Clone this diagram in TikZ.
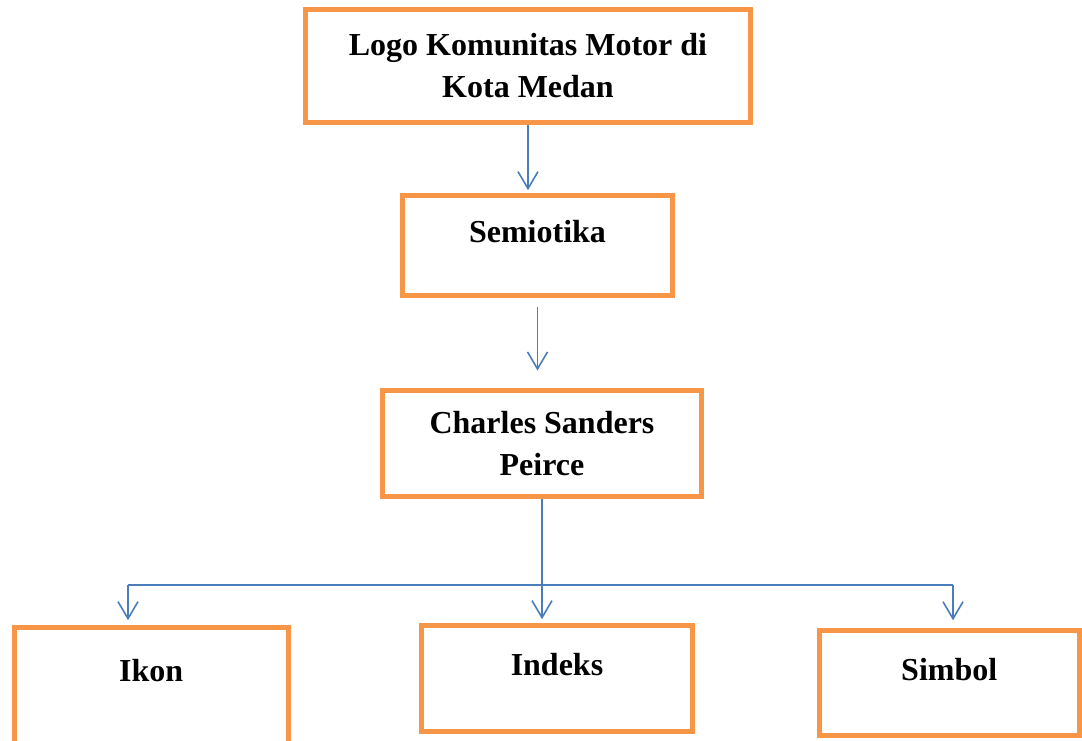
\documentclass[tikz,border=0pt]{standalone}
\usepackage{fontspec}
\setmainfont{Liberation Serif}
\usepackage{xcolor}
\usepackage{tikz}
\usetikzlibrary{arrows.meta}

\definecolor{oranye}{HTML}{F79646}
\definecolor{biru}{HTML}{4A7EBB}

\tikzset{
  kotak/.style={draw=oranye, line width=2.5pt, inner sep=0pt, align=center,
                font=\fontsize{16}{21}\selectfont\bfseries},
  panah/.style={draw=biru, line width=0.8pt, -{Straight Barb[length=8.5pt,width=10pt]}},
  garis/.style={draw=biru, line width=0.8pt}
}

\begin{document}
\begin{tikzpicture}[x=0.5pt, y=-0.5pt]
                \useasboundingbox (0,0) rectangle (1082,740);
                % kotak-kotak
                \node[kotak, minimum width=222.5pt, minimum height=56.5pt] (logo) at (528,66) {Logo Komunitas Motor di\\Kota Medan};
                \node[kotak, minimum width=135pt, text height=23.25pt, text depth=26.75pt] (semiotika) at (537.5,245.5) {Semiotika};
                \node[kotak, minimum width=159.5pt, minimum height=53pt] (peirce) at (542,443.5) {Charles Sanders\\Peirce};
                \node[kotak, minimum width=137.25pt, text height=26.75pt, text depth=39.5pt] (ikon) at (151.25,693.75) {Ikon};
                \node[kotak, minimum width=135.5pt, text height=24.75pt, text depth=28.25pt] (indeks) at (557,678.5) {Indeks};
                \node[kotak, minimum width=130.25pt, text height=24.6pt, text depth=27.9pt] (simbol) at (949.25,683.3) {Simbol};
                % panah
                \draw[panah, shorten >=1.4pt] (logo.south) -- (semiotika.north -| logo.south);
                \draw[panah, shorten <=4.25pt, shorten >=8.75pt] (semiotika.south) -- (semiotika.south |- peirce.north);
                \coordinate (cabang) at (542,585);
                \coordinate (kiri) at (128,585);
                \coordinate (kanan) at (953,585);
                \draw[garis] (peirce.south) -- (cabang);
                \draw[garis] (kiri) -- (kanan);
                \draw[panah, shorten >=2.4pt] (kiri) -- (kiri |- ikon.north);
                \draw[panah, shorten >=1.9pt] (cabang) -- (cabang |- indeks.north);
                \draw[panah, shorten >=4pt] (kanan) -- (kanan |- simbol.north);
            \end{tikzpicture}
\end{document}
